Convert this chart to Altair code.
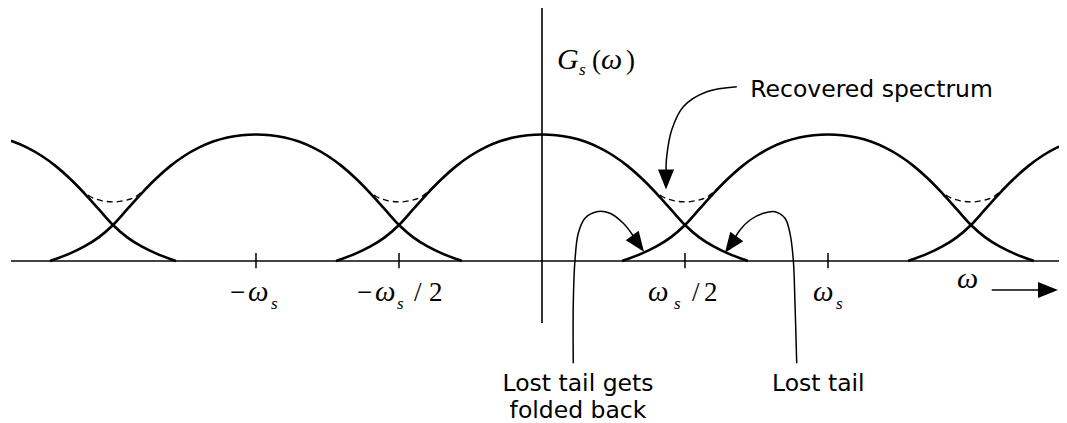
import altair as alt
import pandas as pd

# ---- data -----------------------------------------------------------------
# one spectral copy: offset from its centre (units of ω_s) -> relative height
PROFILE_OFFSET = [0.0, 0.05, 0.10, 0.15, 0.20, 0.25, 0.30, 0.35, 0.40, 0.45, 0.50, 0.55, 0.60, 0.65, 0.70, 0.72]
PROFILE_HEIGHT = [1.0, 0.994, 0.976, 0.944, 0.896, 0.832, 0.750, 0.650, 0.535, 0.410, 0.285, 0.187, 0.115, 0.060, 0.016, 0.0]
CENTERS = [-2, -1, 0, 1, 2]  # copies at multiples of ω_s

# recovered spectrum (dashed) around each crossing point
DASH_OFFSET = [-0.115, -0.08, -0.04, 0.0, 0.04, 0.08, 0.11, 0.14]
DASH_HEIGHT = [0.57, 0.51, 0.478, 0.467, 0.478, 0.51, 0.565, 0.628]
CROSSINGS = [-1.5, -0.5, 0.5, 1.5]

TICKS = [-1.0, -0.5, 0.5, 1.0]

# ---- annotation geometry (data units: ω_s, relative height) ---------------
REC_U = [0.681, 0.576, 0.494, 0.4535, 0.436, 0.4336]
REC_H = [1.378, 1.338, 1.220, 1.036, 0.825, 0.700]
LEFT_U = [0.1094, 0.1094, 0.1154, 0.1269, 0.1503, 0.1913, 0.2378, 0.2843, 0.3192]
LEFT_H = [-0.809, -0.334, 0.008, 0.219, 0.338, 0.390, 0.377, 0.298, 0.198]
RIGHT_U = [0.8906, 0.8846, 0.8787, 0.8671, 0.8497, 0.8147, 0.7738, 0.7273, 0.6923, 0.6748]
RIGHT_H = [-0.809, -0.334, 0.008, 0.219, 0.338, 0.390, 0.377, 0.324, 0.245, 0.182]
OMEGA_U = [1.5724, 1.7552]
OMEGA_H = [-0.2292, -0.2292]

HEAD_U = [0.4336, 0.3566, 0.6399, 1.8042]
HEAD_H = [0.5652, 0.0735, 0.0656, -0.2292]
HEAD_ANGLE = [180, 144, 216, 90]

X_MIN, X_MAX = -1.8566, 1.8077
Y_MIN, Y_MAX = -1.2806, 2.0

XS = alt.Scale(domain=[X_MIN, X_MAX], nice=False, zero=False)
YS = alt.Scale(domain=[Y_MIN, Y_MAX], nice=False, zero=False)


def X(f="u"):
    return alt.X(f"{f}:Q", scale=XS, axis=None)


def Y(f="h"):
    return alt.Y(f"{f}:Q", scale=YS, axis=None)


# spectra table
rows = []
for c in CENTERS:
    offs = [-o for o in reversed(PROFILE_OFFSET[1:])] + PROFILE_OFFSET
    hs = list(reversed(PROFILE_HEIGHT[1:])) + PROFILE_HEIGHT
    for o, h in zip(offs, hs):
        rows.append({"copy": c, "u": c + o, "h": h})
spec = pd.DataFrame(rows)

drows = []
for c in CROSSINGS:
    for o, h in zip(DASH_OFFSET, DASH_HEIGHT):
        drows.append({"cross": c, "u": c + o, "h": h})
dash = pd.DataFrame(drows)

arows = []
for name, us, hs in [("rec", REC_U, REC_H), ("left", LEFT_U, LEFT_H),
                     ("right", RIGHT_U, RIGHT_H), ("omega", OMEGA_U, OMEGA_H)]:
    for i, (u, h) in enumerate(zip(us, hs)):
        arows.append({"id": name, "seq": i, "u": u, "h": h})
ann = pd.DataFrame(arows)

heads = pd.DataFrame({"u": HEAD_U, "h": HEAD_H, "angle": HEAD_ANGLE})

haxis = pd.DataFrame({"u": [X_MIN], "u2": [X_MAX], "h": [0.0]})
vaxis = pd.DataFrame({"u": [0.0], "h": [Y_MAX], "h2": [-0.49]})
ticks = pd.DataFrame({"u": TICKS, "h": [0.063] * 4, "h2": [-0.058] * 4})

ital = pd.DataFrame({
    "text": ["G", "s", "ω", "ω", "s", "ω", "s", "ω", "s", "ω", "s", "ω"],
    "u": [0.0524, 0.1294, 0.2063, -1.0280, -0.9475, -0.5839, -0.5070, 0.3706, 0.4615, 0.9476, 1.0280, 1.4510],
    "h": [1.5154, 1.4704, 1.5154, -0.3162, -0.3794, -0.3162, -0.3794, -0.3162, -0.3794, -0.3162, -0.3794, -0.2158],
    "size": [30, 17, 30, 29, 17, 29, 17, 29, 17, 29, 17, 30],
})
roman = pd.DataFrame({
    "text": ["(", ")", "−", "−", "/", "2", "/", "2"],
    "u": [0.1748, 0.2937, -1.0909, -0.6469, -0.4475, -0.3951, 0.5245, 0.5664],
    "h": [1.5154, 1.5154, -0.3162, -0.3162, -0.3162, -0.3162, -0.3162, -0.3162],
    "size": [27, 27, 27, 27, 27, 27, 27, 27],
})
sans = pd.DataFrame({
    "text": ["Recovered spectrum", "Lost tail gets", "folded back", "Lost tail"],
    "u": [1.1524, 0.1259, 0.1259, 0.9661],
    "h": [1.2941, -1.0277, -1.2411, -1.0253],
})

base_h = alt.Chart(haxis).mark_rule(color="#444444", strokeWidth=1.8).encode(
    x=X(), x2="u2:Q", y=Y())
base_v = alt.Chart(vaxis).mark_rule(color="black", strokeWidth=1.6).encode(
    x=X(), y=Y(), y2="h2:Q")
tick_l = alt.Chart(ticks).mark_rule(color="black", strokeWidth=1.5).encode(
    x=X(), y=Y(), y2="h2:Q")

spec_l = alt.Chart(spec).mark_line(color="black", strokeWidth=2.6, interpolate="monotone", clip=True).encode(
    x=X(), y=Y(), detail="copy:N")
dash_l = alt.Chart(dash).mark_line(color="black", strokeWidth=1.3, strokeDash=[6, 4], interpolate="monotone").encode(
    x=X(), y=Y(), detail="cross:N")
ann_l = alt.Chart(ann).mark_line(color="black", strokeWidth=1.5, interpolate="catmull-rom").encode(
    x=X(), y=Y(), detail="id:N", order="seq:Q")
head_l = alt.Chart(heads).mark_point(shape="M0,0L-0.8,2L0.8,2Z", filled=True, color="black",
                                     opacity=1, size=400, strokeWidth=0).encode(
    x=X(), y=Y(), angle=alt.Angle("angle:Q", scale=None))

ital_l = alt.Chart(ital).mark_text(font="Liberation Serif", fontStyle="italic", align="left",
                                   baseline="alphabetic", color="black").encode(
    x=X(), y=Y(), text="text:N", size=alt.Size("size:Q", scale=None))
roman_l = alt.Chart(roman).mark_text(font="Liberation Serif", align="left",
                                     baseline="alphabetic", color="black").encode(
    x=X(), y=Y(), text="text:N", size=alt.Size("size:Q", scale=None))
sans_l = alt.Chart(sans).mark_text(font="DejaVu Sans", fontSize=23.5, align="center",
                                   baseline="alphabetic", color="black").encode(
    x=X(), y=Y(), text="text:N")

chart = alt.layer(base_h, base_v, tick_l, spec_l, dash_l, ann_l, head_l, ital_l, roman_l, sans_l).properties(
    width=1048, height=415,
    padding={"left": 3, "top": 0, "right": 0, "bottom": 0},
    autosize=alt.AutoSizeParams(type="none"),
    background="white",
).configure_view(stroke=None)

chart.save("out.html", embed_options={"renderer": "svg", "actions": False})
